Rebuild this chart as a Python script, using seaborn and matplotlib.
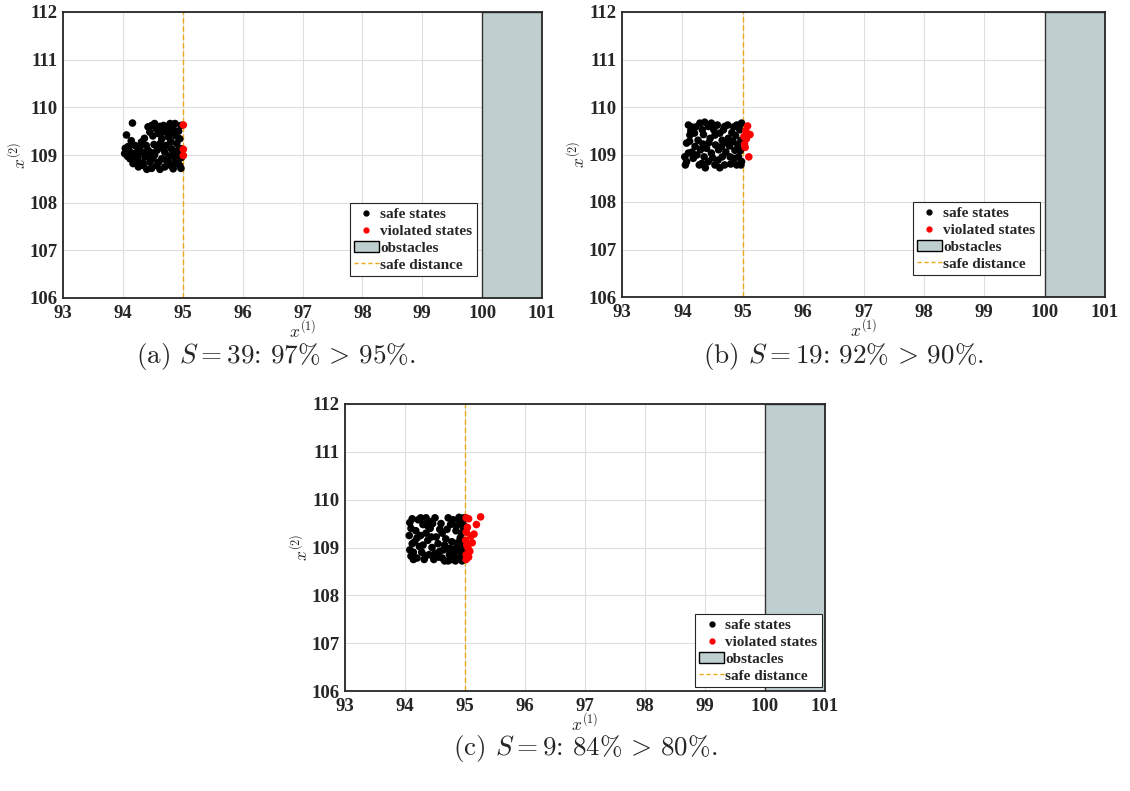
import matplotlib
matplotlib.use("Agg")
import matplotlib.pyplot as plt
import seaborn as sns
import pandas as pd
from matplotlib.patches import Patch
from matplotlib.lines import Line2D

# ---------------- data ----------------
a_safe_x = [94.06, 94.16, 94.04, 94.09, 94.03, 94.12, 94.08, 94.17, 94.20, 94.14, 94.22, 94.26, 94.31, 94.29,
            94.25, 94.37, 94.33, 94.42, 94.39, 94.42, 94.48, 94.53, 94.45, 94.50, 94.59, 94.56, 94.67, 94.73,
            94.79, 94.87, 94.84, 94.76, 94.65, 94.90, 94.92, 94.81, 94.70, 94.59, 94.53, 94.65, 94.76, 94.87,
            94.95, 94.84, 94.70, 94.56, 94.45, 94.34, 94.95, 94.95, 94.97, 94.48, 94.62, 94.40, 94.28, 94.35,
            94.47, 94.52, 94.63, 94.72, 94.80, 94.88, 94.93, 94.97, 94.86, 94.78, 94.60, 94.50, 94.68, 94.62,
            94.74, 94.57, 94.88, 94.92, 94.80, 94.44, 94.36, 94.11, 94.18, 94.23, 94.97, 94.90, 94.83, 94.68,
            94.72, 94.97, 94.98]
a_safe_y = [109.42, 109.67, 109.14, 109.18, 109.03, 108.92, 108.97, 108.82, 109.20, 109.30, 109.05, 108.75, 109.27, 109.06,
            108.95, 108.96, 108.84, 109.10, 109.20, 109.59, 109.62, 109.66, 109.48, 109.40, 109.45, 109.55, 109.48, 109.59,
            109.66, 109.66, 109.55, 109.38, 109.34, 109.24, 109.10, 109.13, 109.06, 109.17, 109.00, 108.92, 108.85, 108.92,
            108.78, 108.71, 108.75, 108.78, 108.85, 108.78, 108.99, 109.34, 109.13, 108.72, 108.70, 108.70, 109.15, 109.05,
            109.05, 109.22, 109.25, 109.20, 109.28, 109.40, 109.50, 109.62, 109.05, 108.98, 108.85, 108.92, 109.62, 109.60,
            109.48, 109.10, 108.82, 108.88, 108.78, 108.97, 109.35, 109.08, 108.98, 108.88, 108.72, 109.00, 109.45, 109.12,
            108.90, 109.05, 108.95]
a_viol_x = [95.01, 95.01, 95.01]
a_viol_y = [109.63, 109.12, 108.99]

b_safe_x = [94.10, 94.15, 94.125, 94.07, 94.10, 94.07, 94.21, 94.26, 94.24, 94.32, 94.29, 94.37, 94.43, 94.48,
            94.54, 94.46, 94.40, 94.48, 94.43, 94.59, 94.65, 94.70, 94.76, 94.84, 94.90, 94.95, 94.98, 94.87,
            94.79, 94.93, 94.98, 94.70, 94.54, 94.04, 94.05, 94.18, 94.20, 94.14, 94.33, 94.35, 94.30, 94.36,
            94.52, 94.58, 94.62, 94.66, 94.60, 94.55, 94.72, 94.78, 94.82, 94.88, 94.92, 94.97, 94.96, 94.86,
            94.80, 94.66, 94.50, 94.38, 94.28, 94.22, 94.44, 94.68, 94.75, 94.85, 94.94, 94.90, 94.74, 94.62,
            94.16, 94.12, 94.34, 94.97]
b_safe_y = [109.62, 109.58, 109.41, 109.24, 109.03, 108.85, 109.17, 109.30, 108.99, 108.81, 109.66, 109.68, 109.59, 109.66,
            109.41, 109.34, 109.13, 109.03, 108.85, 108.88, 109.17, 109.59, 109.34, 109.27, 109.62, 109.52, 109.66, 109.09,
            108.95, 108.95, 108.85, 108.78, 108.78, 108.95, 108.78, 108.92, 109.45, 109.50, 109.52, 109.42, 109.10, 108.95,
            109.52, 109.62, 109.45, 109.30, 109.10, 109.20, 109.05, 109.18, 109.46, 109.40, 109.20, 109.30, 109.08, 108.92,
            108.80, 108.95, 108.93, 108.72, 108.78, 109.58, 109.25, 109.52, 109.62, 109.58, 109.60, 108.78, 109.25, 108.72,
            109.05, 109.28, 109.22, 108.78]
b_viol_x = [95.08, 95.12, 95.05, 95.06, 95.03, 95.10, 95.02, 95.04]
b_viol_y = [109.60, 109.42, 109.50, 109.33, 109.22, 108.95, 109.38, 109.15]

c_safe_x = [94.08, 94.12, 94.10, 94.07, 94.12, 94.08, 94.10, 94.14, 94.18, 94.22, 94.26, 94.30, 94.20, 94.24,
            94.28, 94.32, 94.35, 94.40, 94.42, 94.38, 94.45, 94.40, 94.48, 94.52, 94.55, 94.58, 94.62, 94.66,
            94.70, 94.74, 94.78, 94.82, 94.86, 94.90, 94.95, 94.98, 94.96, 94.92, 94.98, 94.95, 94.90, 94.80,
            94.76, 94.72, 94.85, 94.70, 94.62, 94.68, 94.78, 94.88, 94.60, 94.50, 94.35, 94.16, 94.30, 94.34,
            94.50, 94.56, 94.64, 94.76, 94.92, 94.84, 94.72, 94.44, 94.26, 94.14, 94.20, 94.58, 94.46, 94.38,
            94.66, 94.86, 94.94, 94.80, 94.90, 94.98, 94.99, 94.99, 94.97, 94.97]
c_safe_y = [109.52, 109.60, 109.40, 109.25, 109.08, 108.95, 108.82, 108.75, 109.35, 109.58, 109.62, 109.48, 109.20, 109.02,
            108.90, 108.75, 109.30, 109.55, 109.40, 109.15, 109.00, 108.85, 108.75, 109.22, 109.08, 108.92, 108.78, 108.72,
            108.98, 108.85, 108.75, 108.88, 109.00, 108.78, 108.72, 108.85, 109.05, 109.20, 109.40, 109.55, 109.63, 109.58,
            109.48, 109.62, 109.35, 109.38, 109.30, 109.18, 109.12, 109.10, 109.50, 109.62, 109.62, 109.12, 109.05, 108.82,
            108.88, 108.80, 108.95, 108.98, 108.92, 108.72, 108.72, 109.22, 109.25, 108.90, 108.78, 109.38, 109.50, 109.45,
            109.05, 109.45, 109.30, 108.82, 109.58, 109.62, 108.98, 108.78, 109.15, 109.48]
c_viol_x = [95.06, 95.26, 95.19, 95.02, 95.02, 95.10, 95.12, 95.05, 95.08, 95.02, 95.02, 95.15, 95.04, 95.03, 95.06, 95.01]
c_viol_y = [109.60, 109.64, 109.48, 109.62, 109.32, 109.24, 109.10, 108.99, 108.92, 108.75, 108.85, 109.28, 109.42, 109.05, 108.80, 109.15]

captions = [r"(a) $S = 39$: 97%$\,>\,$95%.",
            r"(b) $S = 19$: 92%$\,>\,$90%.",
            r"(c) $S = 9$: 84%$\,>\,$80%."]
obstacle_x = [100, 101]
obstacle_y = [106, 112]
safe_distance = 95
x_ticks = [93, 94, 95, 96, 97, 98, 99, 100, 101]
y_ticks = [106, 107, 108, 109, 110, 111, 112]
labels = ["safe states", "violated states", "obstacles", "safe distance"]

# ---------------- style ----------------
sns.set_theme(style="white")
plt.rcParams['font.family'] = ['Liberation Serif', 'DejaVu Serif']
plt.rcParams['mathtext.fontset'] = 'cm'

W, H = 1130, 791
fig = plt.figure(figsize=(W / 100, H / 100), dpi=100)

panels = [
    (a_safe_x, a_safe_y, a_viol_x, a_viol_y, (63, 12, 542, 298), (0.864, 0.332), (276, 356)),
    (b_safe_x, b_safe_y, b_viol_x, b_viol_y, (622, 12, 1105, 297), (0.865, 0.333), (843, 356)),
    (c_safe_x, c_safe_y, c_viol_x, c_viol_y, (345, 404, 825, 691), (0.994, 0.268), (585, 749)),
]

OBS_COLOR = '#bfcfcf'
SAFE_COLOR = '#EDA81C'

for i, (sx, sy, vx, vy, box, leg_anchor, cap_pos) in enumerate(panels):
    l, t, r, b = box
    ax = fig.add_axes([l / W, (H - b) / H, (r - l) / W, (b - t) / H])
    df = pd.DataFrame({
        'x': list(sx) + list(vx),
        'y': list(sy) + list(vy),
        'state': ['safe'] * len(sx) + ['violated'] * len(vx),
    })
    ax.axvspan(obstacle_x[0], obstacle_x[1], ymin=0, ymax=1, facecolor=OBS_COLOR,
               edgecolor='#333333', linewidth=1.0, zorder=1)
    ax.axvline(safe_distance, color=SAFE_COLOR, linestyle=(0, (4, 2)), linewidth=1.0, zorder=2)
    sns.scatterplot(data=df, x='x', y='y', hue='state',
                    palette={'safe': 'black', 'violated': '#ff0000'},
                    s=30, linewidth=0, legend=False, ax=ax, zorder=3)
    ax.set_xlim(93, 101)
    ax.set_ylim(106, 112)
    ax.set_xticks(x_ticks)
    ax.set_yticks(y_ticks)
    ax.grid(True, color='#dedede', linewidth=0.8, zorder=0)
    ax.set_axisbelow(True)
    ax.tick_params(direction='in', length=4, width=0.8, labelsize=13.5, colors='#262626')
    ax.tick_params(axis='x', pad=5)
    ax.tick_params(axis='y', pad=4)
    for lab in ax.get_xticklabels() + ax.get_yticklabels():
        lab.set_fontweight('bold')
    for sp in ax.spines.values():
        sp.set_color('#262626')
        sp.set_linewidth(1.3)
    ax.set_xlabel(r"$x^{(1)}$", fontsize=12.5, labelpad=-1.5, color='#262626')
    ax.set_ylabel(r"$x^{(2)}$", fontsize=12.5, labelpad=0, color='#262626')

    handles = [
        Line2D([], [], marker='o', linestyle='none', color='black', markersize=3.5),
        Line2D([], [], marker='o', linestyle='none', color='#ff0000', markersize=3.5),
        Patch(facecolor=OBS_COLOR, edgecolor='black', linewidth=1.0),
        Line2D([], [], color=SAFE_COLOR, linestyle=(0, (3, 2)), linewidth=1.0),
    ]
    leg = ax.legend(handles, labels, loc='upper right', bbox_to_anchor=leg_anchor,
                    prop={'weight': 'bold', 'size': 11}, frameon=True, fancybox=False,
                    edgecolor='#262626', framealpha=1, handlelength=1.6, handletextpad=0.1,
                    borderpad=0.3, labelspacing=0.2, borderaxespad=0)
    leg.get_frame().set_linewidth(0.8)
    leg.set_zorder(5)

    fig.text(cap_pos[0] / W, 1 - cap_pos[1] / H, captions[i], ha='center', va='center',
             fontsize=19.5, family='cmr10')

fig.savefig('out.png', dpi=100)
